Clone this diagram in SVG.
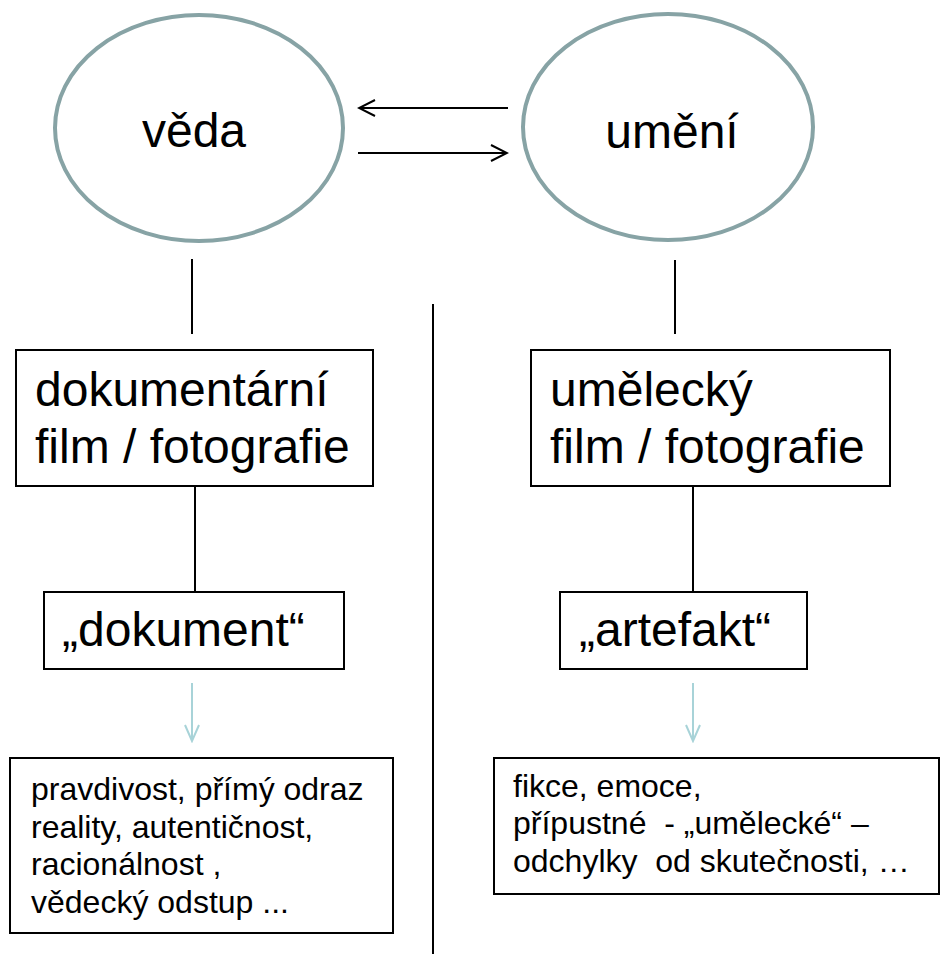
<svg xmlns="http://www.w3.org/2000/svg" width="941" height="954" viewBox="0 0 941 954">
<defs>
<style>
.ell{fill:#fff;stroke:#87a3a5;stroke-width:4}
.box{fill:#fff;stroke:#000;stroke-width:2}
.t{font-family:"Liberation Sans",Arial,sans-serif;fill:#000}
.big{font-size:48px}
.sm{font-size:32px}
.ln{stroke:#000;stroke-width:2;fill:none}
.lb{stroke:#a8d3d8;stroke-width:2;fill:none}
</style>
<marker id="ah" viewBox="0 0 20 20" refX="18" refY="10" markerWidth="20" markerHeight="20" markerUnits="userSpaceOnUse" orient="auto">
<path d="M2,2 L18,10 L2,18" fill="none" stroke="#000" stroke-width="2"/>
</marker>
<marker id="ahb" viewBox="0 0 20 20" refX="18" refY="10" markerWidth="20" markerHeight="20" markerUnits="userSpaceOnUse" orient="auto">
<path d="M2,3 L18,10 L2,17" fill="none" stroke="#a8d3d8" stroke-width="2"/>
</marker>
</defs>
<rect width="941" height="954" fill="#fff"/>
<g id="connectors">
<line class="ln" x1="508" y1="108" x2="359" y2="108" marker-end="url(#ah)"/>
<line class="ln" x1="358" y1="153" x2="507" y2="153" marker-end="url(#ah)"/>
<line class="ln" x1="192" y1="259" x2="192" y2="334"/>
<line class="ln" x1="675" y1="260" x2="675" y2="334"/>
<line class="ln" x1="195" y1="486" x2="195" y2="592"/>
<line class="ln" x1="693" y1="486" x2="693" y2="592"/>
<line class="lb" x1="192" y1="683" x2="192" y2="741" marker-end="url(#ahb)"/>
<line class="lb" x1="693" y1="683" x2="693" y2="741" marker-end="url(#ahb)"/>
<line class="ln" x1="433" y1="304" x2="433" y2="954"/>
</g>
<g id="veda">
<ellipse class="ell" cx="199" cy="128" rx="144" ry="113"/>
<text class="t big" x="194" y="147" text-anchor="middle">věda</text>
</g>
<g id="umeni">
<ellipse class="ell" cx="668" cy="127" rx="145" ry="113"/>
<text class="t big" x="672" y="148" text-anchor="middle">umění</text>
</g>
<g id="dokfilm">
<rect class="box" x="16" y="350" width="357" height="136"/>
<text class="t big" x="35" y="406">dokumentární</text>
<text class="t big" x="35" y="463">film / fotografie</text>
</g>
<g id="umfilm">
<rect class="box" x="531" y="350" width="359" height="136"/>
<text class="t big" x="550" y="406">umělecký</text>
<text class="t big" x="550" y="463">film / fotografie</text>
</g>
<g id="dokument">
<rect class="box" x="44" y="592" width="300" height="77"/>
<text class="t big" x="62" y="646">„dokument“</text>
</g>
<g id="artefakt">
<rect class="box" x="560" y="592" width="247" height="77"/>
<text class="t big" x="579" y="646">„artefakt“</text>
</g>
<g id="dokvlast">
<rect class="box" x="10" y="758" width="383" height="175"/>
<text class="t sm" x="31" y="800">pravdivost, přímý odraz</text>
<text class="t sm" x="31" y="838">reality, autentičnost,</text>
<text class="t sm" x="31" y="875">racionálnost ,</text>
<text class="t sm" x="31" y="913">vědecký odstup ...</text>
</g>
<g id="artvlast">
<rect class="box" x="494" y="758" width="445" height="136"/>
<text class="t sm" x="513" y="797" xml:space="preserve">fikce, emoce,</text>
<text class="t sm" x="513" y="834" xml:space="preserve">přípustné  - „umělecké“ –</text>
<text class="t sm" x="513" y="872" xml:space="preserve">odchylky  od skutečnosti, …</text>
</g>
</svg>
